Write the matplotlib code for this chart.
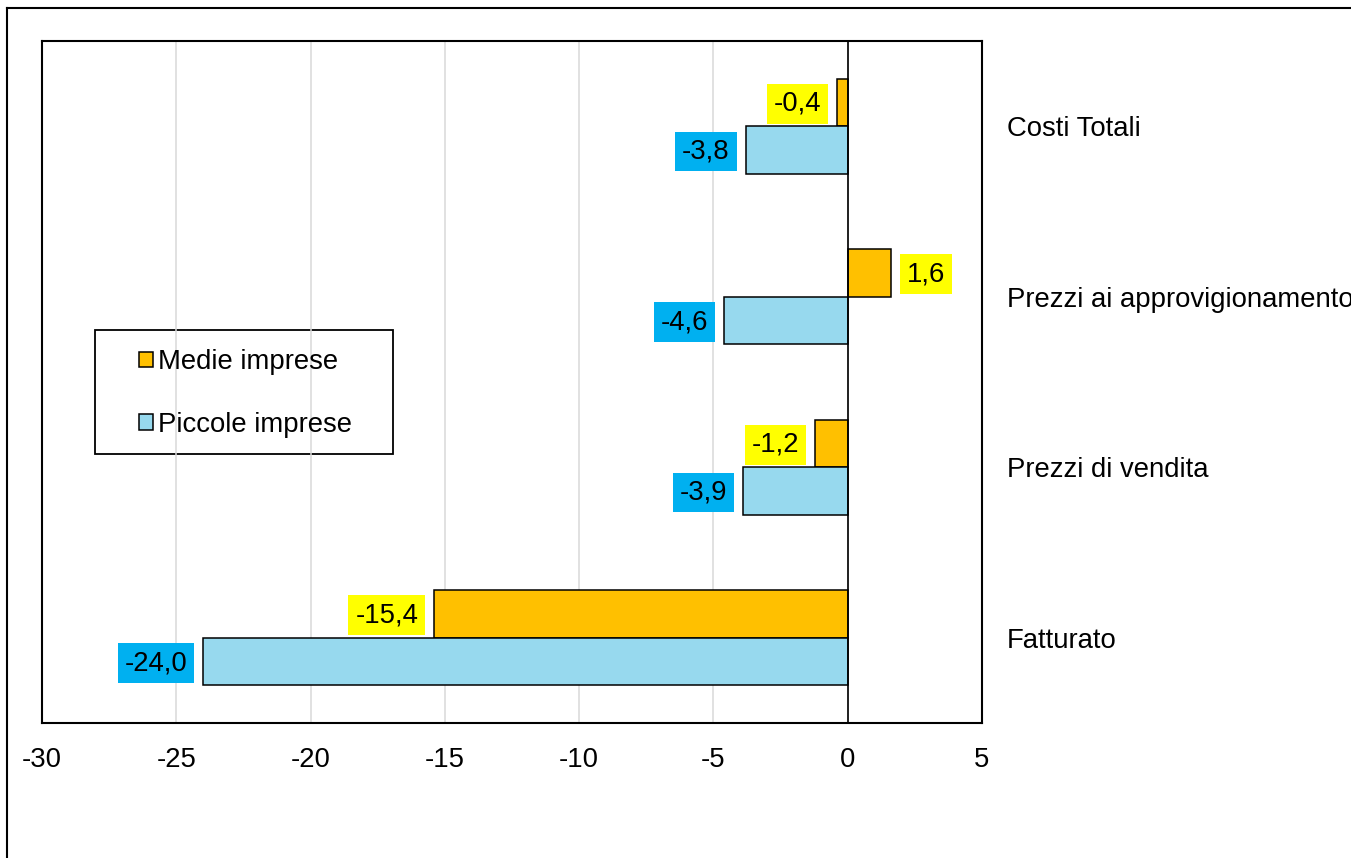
import matplotlib
matplotlib.use("Agg")
import matplotlib.pyplot as plt
import numpy as np
from matplotlib.lines import Line2D
from matplotlib.patches import Rectangle

categories = ["Costi Totali", "Prezzi ai approvigionamento", "Prezzi di vendita", "Fatturato"]
medie = [-0.4, 1.6, -1.2, -15.4]
piccole = [-3.8, -4.6, -3.9, -24.0]
series_names = ["Medie imprese", "Piccole imprese"]
xticks = [-30, -25, -20, -15, -10, -5, 0, 5]

plt.rcParams['font.family'] = ['Liberation Sans', 'DejaVu Sans']
FS = 19.8

W, H = 1351, 858
fig = plt.figure(figsize=(W / 100, H / 100), dpi=100)
ax = fig.add_axes([42 / W, (H - 723) / H, 940 / W, 682 / H])

n = len(categories)
ypos = np.arange(n)[::-1]  # first category at top
bh = 0.28
c_med = "#FFC000"
c_pic = "#97D9EE"

b1 = ax.barh(ypos + bh / 2, medie, height=bh, color=c_med, edgecolor="black", linewidth=1.1, zorder=3, label=series_names[0])
b2 = ax.barh(ypos - bh / 2, piccole, height=bh, color=c_pic, edgecolor="black", linewidth=1.1, zorder=3, label=series_names[1])

ax.set_xlim(-30, 5)
ax.set_ylim(-0.5, n - 0.5)
ax.set_xticks(xticks)
ax.set_xticklabels([str(t) for t in xticks], fontsize=FS)
ax.tick_params(axis="x", length=0, pad=17.5)
ax.set_yticks(ypos)
ax.set_yticklabels(categories, fontsize=FS)
ax.yaxis.tick_right()
ax.tick_params(axis="y", length=0, pad=18)

ax.grid(axis="x", color="#D9D9D9", linewidth=1.1, zorder=0)
ax.axvline(0, color="black", linewidth=1.2, zorder=4)
for s in ax.spines.values():
    s.set_linewidth(1.5)
    s.set_color("black")


def fmt(v):
    return f"{v:.1f}".replace(".", ",")


pad = 0.25
off = (9 + pad * FS / 0.72) * 0.72
for vals, yy, bg in [(medie, ypos + bh / 2, "#FFFF00"), (piccole, ypos - bh / 2, "#00B0F0")]:
    for v, y in zip(vals, yy):
        if v < 0:
            ax.annotate(fmt(v), (v, y), xytext=(-off, -1), textcoords="offset points",
                        ha="right", va="center", fontsize=FS, zorder=5,
                        bbox=dict(boxstyle=f"square,pad={pad}", fc=bg, ec="none"))
        else:
            ax.annotate(fmt(v), (v, y), xytext=(off, -1), textcoords="offset points",
                        ha="left", va="center", fontsize=FS, zorder=5,
                        bbox=dict(boxstyle=f"square,pad={pad}", fc=bg, ec="none"))

# legend
leg = ax.legend(handles=[b1, b2], loc="center left", bbox_to_anchor=(139 / W, 1 - 393.5 / H),
                bbox_transform=fig.transFigure, frameon=False, fontsize=FS,
                handlelength=0.5, handleheight=0.5, handletextpad=0.2,
                labelspacing=1.32, borderpad=0, borderaxespad=0)
leg.set_zorder(6)
fig.patches.append(Rectangle((95 / W, 1 - 454 / H), (393 - 95) / W, (454 - 330) / H,
                             transform=fig.transFigure, fill=True, fc="white", ec="black",
                             lw=1.3, zorder=1))
ax.set_zorder(2)
ax.patch.set_alpha(0)

# outer frame
fig.add_artist(Line2D([7 / W, 1], [1 - 8 / H, 1 - 8 / H], transform=fig.transFigure, color="black", lw=1.5))
fig.add_artist(Line2D([7 / W, 7 / W], [0, 1 - 8 / H], transform=fig.transFigure, color="black", lw=1.5))

fig.savefig("out.png", dpi=100)
